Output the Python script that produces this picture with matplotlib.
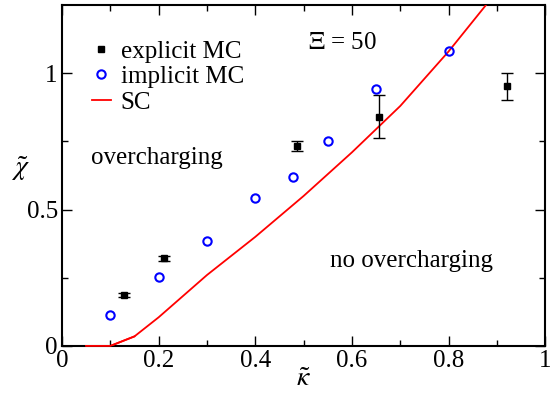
import numpy as np
import matplotlib.pyplot as plt
from matplotlib.lines import Line2D

plt.rcParams['font.family'] = 'Liberation Serif'
plt.rcParams['mathtext.fontset'] = 'stix'

# explicit MC (with error bars)
exp_k = [0.128, 0.211, 0.487, 0.656, 0.921]
exp_chi = [0.187, 0.321, 0.733, 0.841, 0.952]
exp_err = [0.008, 0.008, 0.018, 0.08, 0.05]

# implicit MC
imp_k = [0.10, 0.20, 0.30, 0.40, 0.478, 0.551, 0.65, 0.80]
imp_chi = [0.114, 0.251, 0.384, 0.542, 0.62, 0.753, 0.941, 1.081]

# SC curve
sc_k = [0.05, 0.10, 0.15, 0.20, 0.30, 0.40, 0.50, 0.60, 0.70, 0.80, 0.90]
sc_chi = [0.0, 0.0, 0.035, 0.105, 0.26, 0.40, 0.55, 0.71, 0.88, 1.08, 1.30]

fig = plt.figure(figsize=(5.51, 3.94), dpi=100)
ax = fig.add_axes([0.1125, 0.122, 0.877, 0.865])

ax.plot(sc_k, sc_chi, color='red', lw=1.3, zorder=3, clip_on=True)
ax.plot(sc_k[:3], sc_chi[:3], color='red', lw=1.3, zorder=5, clip_on=False)
ax.errorbar(exp_k, exp_chi, yerr=exp_err, fmt='s', color='black', ms=5,
            capsize=4, elinewidth=1, zorder=3)
ax.plot(imp_k, imp_chi, 'o', mfc='none', mec='blue', mew=1.5, ms=6, zorder=4)

ax.set_xlim(0, 1)
ax.set_ylim(0, 1.25)
ax.set_xticks([0, 0.2, 0.4, 0.6, 0.8, 1])
ax.set_xticklabels(['0', '0.2', '0.4', '0.6', '0.8', '1'])
ax.set_xticks(np.arange(0.1, 1, 0.2), minor=True)
ax.set_yticks([0, 0.5, 1])
ax.set_yticklabels(['0', '0.5', '1'])
ax.set_yticks([0.25, 0.75], minor=True)
ax.tick_params(which='both', direction='in', top=True, right=True, labelsize=18)
ax.tick_params(which='major', length=7, width=1, pad=3)
ax.tick_params(which='minor', length=4, width=1)
for s in ax.spines.values():
    s.set_linewidth(1.5)

ax.set_xlabel(r'$\tilde{\kappa}$', fontsize=20, labelpad=-4)
ax.set_ylabel(r'$\tilde{\chi}$', fontsize=20, rotation=0, va='center')
ax.yaxis.set_label_coords(-0.085, 0.52)

ax.text(0.06, 0.69, 'overcharging', fontsize=18, va='center')
ax.text(0.555, 0.31, 'no overcharging', fontsize=18, va='center')
ax.text(0.51, 1.11, r'$\Xi$ = 50', fontsize=18, va='center')

handles = [
    Line2D([], [], ls='none', marker='s', color='black', ms=5),
    Line2D([], [], ls='none', marker='o', mfc='none', mec='blue', mew=1.5, ms=6),
    Line2D([], [], color='red', lw=1.3),
]
ax.legend(handles, ['explicit MC', 'implicit MC', 'SC'], loc='upper left',
          bbox_to_anchor=(0.0, 0.985), frameon=False, fontsize=18,
          handlelength=0.75, handletextpad=0.4, labelspacing=0.12,
          borderaxespad=0.6, borderpad=0.6)

fig.savefig('out.png', dpi=100)
